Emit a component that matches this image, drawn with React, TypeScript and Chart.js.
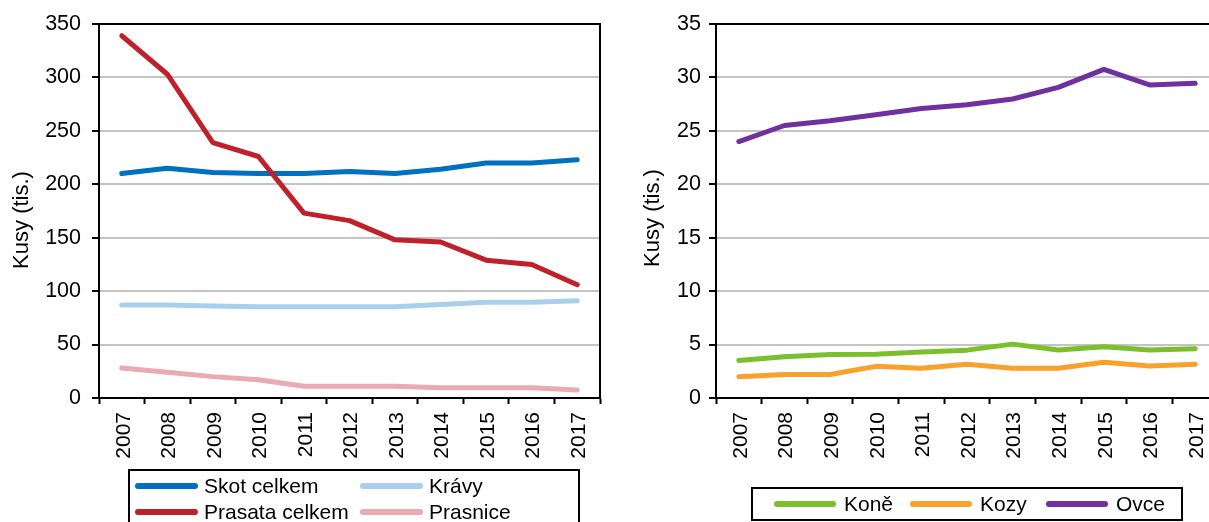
import React, { useEffect, useRef } from "react";
import { Chart, registerables } from "chart.js";

Chart.register(...registerables);

const years = ["2007", "2008", "2009", "2010", "2011", "2012", "2013", "2014", "2015", "2016", "2017"];

const skotCelkem = [210, 215, 211, 210, 210, 212, 210, 214, 220, 220, 223];
const prasataCelkem = [339, 303, 239, 226, 173, 166, 148, 146, 129, 125, 106];
const kravy = [87, 87, 86, 85.5, 85.5, 85.5, 85.5, 87.5, 89.5, 89.5, 91];
const prasnice = [28, 24, 20, 17, 11, 11, 11, 9.7, 9.7, 9.7, 7.5];

const kone = [3.5, 3.85, 4.08, 4.1, 4.3, 4.48, 5.04, 4.49, 4.8, 4.49, 4.62];
const kozy = [2.0, 2.2, 2.2, 2.96, 2.78, 3.15, 2.78, 2.78, 3.34, 2.99, 3.15];
const ovce = [24.0, 25.5, 25.95, 26.5, 27.1, 27.45, 27.98, 29.07, 30.75, 29.3, 29.45];

const leftAxis = { min: 0, max: 350, step: 50 };
const rightAxis = { min: 0, max: 35, step: 5 };
const axisTitle = "Kusy (tis.)";

const FONT = "'Liberation Sans', Arial, sans-serif";

const frameAndLegend = {
  id: "frameAndLegend",
  afterDraw(chart: any, _args: any, opts: any) {
    const ctx = chart.ctx;
    const { left, top, right, bottom } = chart.chartArea;
    ctx.save();
    ctx.strokeStyle = "#000";
    ctx.lineWidth = 2;
    ctx.beginPath();
    ctx.moveTo(left - 1, top);
    ctx.lineTo(right, top);
    ctx.lineTo(right, bottom);
    ctx.stroke();

    const t = opts.title;
    if (t) {
      ctx.save();
      ctx.translate(t.x, t.y);
      ctx.rotate(-Math.PI / 2);
      ctx.fillStyle = "#000";
      ctx.font = `22px ${FONT}`;
      ctx.textAlign = "center";
      ctx.textBaseline = "middle";
      ctx.fillText(t.text, 0, 0);
      ctx.restore();
    }

    const lg = opts.legend;
    if (lg) {
      ctx.lineWidth = 2;
      ctx.strokeStyle = "#000";
      ctx.strokeRect(lg.x, lg.y, lg.w, lg.h);
      chart.data.datasets.forEach((ds: any, i: number) => {
        const it = lg.items[i];
        ctx.strokeStyle = ds.borderColor;
        ctx.lineWidth = 6;
        ctx.lineCap = "round";
        ctx.beginPath();
        ctx.moveTo(it.x, it.y);
        ctx.lineTo(it.x + lg.lineLen, it.y);
        ctx.stroke();
        ctx.fillStyle = "#000";
        ctx.font = `21px ${FONT}`;
        ctx.textBaseline = "middle";
        ctx.textAlign = "left";
        ctx.fillText(ds.label, it.x + lg.textGap, it.y + 1);
      });
    }
    ctx.restore();
  },
};

function makeConfig(
  datasets: any[],
  axis: { min: number; max: number; step: number },
  yWidth: number,
  padRight: number,
  tickPad: number,
  title: any,
  legend: any
) {
  return {
    type: "line",
    data: {
      labels: years,
      datasets: datasets.map((d) => ({
        label: d.label,
        data: d.data,
        borderColor: d.color,
        backgroundColor: d.color,
        borderWidth: 5,
        borderCapStyle: "round",
        borderJoinStyle: "round",
        pointRadius: 0,
        tension: 0,
        fill: false,
      })),
    },
    options: {
      responsive: false,
      animation: false,
      devicePixelRatio: 1,
      layout: { padding: { left: 0, top: 24, right: padRight, bottom: 0 } },
      plugins: {
        legend: { display: false },
        tooltip: { enabled: false },
        frameAndLegend: { legend, title },
      },
      scales: {
        x: {
          type: "category",
          offset: true,
          grid: {
            offset: true,
            drawOnChartArea: false,
            drawTicks: true,
            tickLength: 6,
            tickColor: "#000",
            tickWidth: 2,
          },
          border: { color: "#000", width: 2 },
          ticks: {
            color: "#000",
            font: { family: FONT, size: 21 },
            minRotation: 90,
            maxRotation: 90,
            padding: 8,
            labelOffset: 2,
            autoSkip: false,
          },
          afterFit: (s: any) => {
            s.height = 162;
          },
        },
        y: {
          min: axis.min,
          max: axis.max,
          grid: {
            color: "#C4C4C4",
            lineWidth: 2,
            tickLength: 7,
            tickColor: "#000",
            tickWidth: 2,
          },
          border: { color: "#000", width: 2 },
          ticks: {
            stepSize: axis.step,
            color: "#000",
            font: { family: FONT, size: 21.5 },
            padding: tickPad,
          },
          afterFit: (s: any) => {
            s.width = yWidth;
          },
        },
      },
    },
    plugins: [frameAndLegend],
  };
}

function ChartCanvas({ config, left, width, height }: any) {
  const ref = useRef<HTMLCanvasElement | null>(null);
  useEffect(() => {
    if (!ref.current) return;
    const chart = new Chart(ref.current, config);
    return () => chart.destroy();
  }, [config]);
  return (
    <canvas
      ref={ref}
      width={width}
      height={height}
      style={{ position: "absolute", left, top: 0, width, height }}
    />
  );
}

const leftConfig = makeConfig(
  [
    { label: "Prasata celkem", data: prasataCelkem, color: "#C0202A" },
    { label: "Skot celkem", data: skotCelkem, color: "#0070C0" },
    { label: "Krávy", data: kravy, color: "#A8CFEB" },
    { label: "Prasnice", data: prasnice, color: "#E9AAB0" },
  ],
  leftAxis,
  99,
  15,
  11,
  { text: axisTitle, x: 22, y: 220 },
  {
    x: 129,
    y: 470,
    w: 450,
    h: 80,
    lineLen: 57,
    textGap: 66,
    items: [
      { x: 138, y: 512 },
      { x: 138, y: 486 },
      { x: 363, y: 486 },
      { x: 363, y: 512 },
    ],
  }
);

const rightConfig = makeConfig(
  [
    { label: "Koně", data: kone, color: "#7BBF2C" },
    { label: "Kozy", data: kozy, color: "#F9A12B" },
    { label: "Ovce", data: ovce, color: "#7030A0" },
  ],
  rightAxis,
  101,
  17,
  8,
  { text: axisTitle, x: 38, y: 218 },
  {
    x: 137,
    y: 488,
    w: 430,
    h: 32,
    lineLen: 56,
    textGap: 67,
    items: [
      { x: 162, y: 504 },
      { x: 298, y: 504 },
      { x: 434, y: 504 },
    ],
  }
);

export default function App() {
  return (
    <div
      style={{
        position: "absolute",
        left: 0,
        top: 0,
        width: 1209,
        height: 522,
        overflow: "hidden",
        background: "#fff",
      }}
    >
      <ChartCanvas config={leftConfig} left={0} width={615} height={560} />
      <ChartCanvas config={rightConfig} left={615} width={620} height={560} />
    </div>
  );
}
